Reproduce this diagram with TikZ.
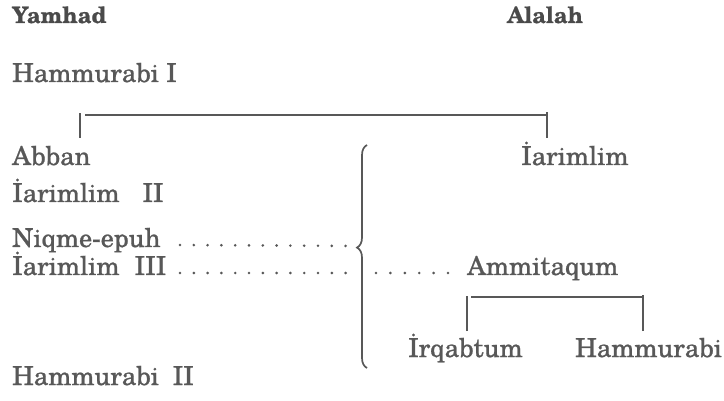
\documentclass[tikz,border=0pt]{standalone}
\usepackage{fontspec}
\usetikzlibrary{decorations.pathreplacing}
\newfontfamily\namefont{texgyreschola-regular}[Extension=.otf, FakeBold=0.8]
\newfontfamily\realmfont{texgyreschola-bold}[Extension=.otf, FakeBold=0.6]
\definecolor{ink}{HTML}{585858}
\definecolor{headink}{HTML}{4A4A4A}
\tikzset{
	person/.style={anchor=base west, inner sep=0pt, text=ink, font=\fontsize{26}{30}\namefont},
	realm/.style={anchor=base west, inner sep=0pt, text=headink, font=\fontsize{22.5}{26}\realmfont},
	family/.style={draw=ink, line width=1.2pt},
	tick/.style={draw=ink, line width=1.9pt},
	dotrow/.style={draw=ink, line width=2.9pt, line cap=round, dash pattern=on 0pt off 13.8pt},
	bracket/.style={draw=ink, line width=1.7pt, decorate, decoration={brace, amplitude=10pt, aspect=0.54}}
}
\begin{document}
\begin{tikzpicture}[x=1pt, y=-1pt]
			\useasboundingbox (0,0) rectangle (724,401);
			\node[realm] (yamhad) at (12,23) {Yamhad};
			\node[realm] (alalah) at (507,23) {Alalah};
			\node[person] (hammI) at (12,82) {Hammurabi I};
			\node[person] (abban) at (12,165) {Abban};
			\node[person] (iarA) at (521,165) {İarimlim};
			\node[person] (iarII) at (12,202) {İarimlim\hspace{0.6em} II};
			\node[person] (niqme) at (12,247) {Niqme-epuh};
			\node[person] (iarIII) at (12,275) {İarimlim\hspace{0.3em} III};
			\node[person] (ammit) at (467,275) {Ammitaqum};
			\node[person] (irqab) at (408,357) {İrqabtum};
			\node[person] (hammA) at (575,357) {Hammurabi};
			\node[person] (hammII) at (12,385) {Hammurabi\hspace{0.25em} II};
			\coordinate (sibL) at (80,138);
			\coordinate (sibR) at (547,138);
			\coordinate (sibBar) at (85,115);
			\coordinate (kidL) at (467,331);
			\coordinate (kidR) at (643,331);
			\coordinate (kidBar) at (471,297);
			\draw[tick] (sibL) -- ++(0,-25) (sibR) -- ++(0,-26);
			\draw[family] (sibBar) -- (sibBar -| sibR);
			\draw[tick] (kidL) -- ++(0,-35) (kidR) -- ++(0,-36);
			\draw[family] (kidBar) -- (kidBar -| kidR);
			\coordinate (braceB) at (367,368);
			\coordinate (braceT) at (367,145);
			\coordinate (tip) at (357,246);
			\draw[bracket] (braceB) -- (braceT);
			\coordinate (dotA) at (180,245);
			\coordinate (dotB) at (180,273);
			\coordinate (dotBe) at (347,273);
			\coordinate (dotC) at (376,273);
			\coordinate (dotCe) at (452,273);
			\draw[dotrow] (dotA) -- (tip);
			\draw[dotrow] (dotB) -- (dotBe);
			\draw[dotrow, dash pattern=on 0pt off 14.4pt] (dotC) -- (dotCe);
			\end{tikzpicture}
\end{document}
